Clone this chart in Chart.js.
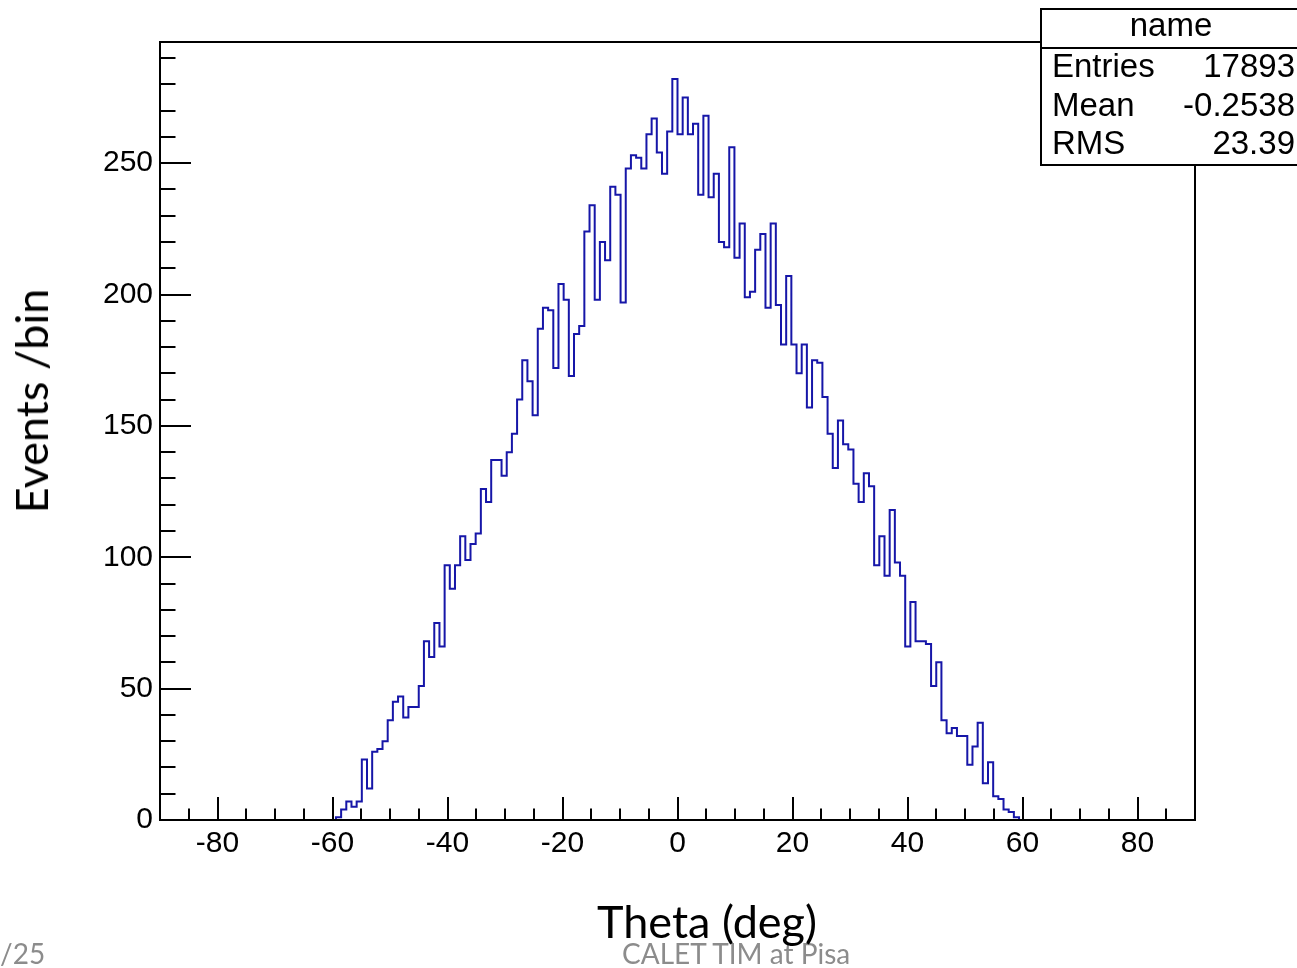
<!DOCTYPE html>
<html>
<head>
<meta charset="utf-8">
<script src="https://cdn.jsdelivr.net/npm/chart.js@4"></script>
<style>
  body { margin: 0; background: #fff; }
  #wrap { position: relative; width: 1297px; height: 968px; overflow: hidden; }
  #stats {
    position: absolute; left: 1040px; top: 8px; width: 270px; height: 154px;
    border: 2px solid #000; background: #fff;
    font-family: "Liberation Sans", Arial, sans-serif; font-size: 33px; line-height: 33px; color: #000;
  }
  #stats .sep { position: absolute; left: 0; right: 0; top: 37px; border-top: 2px solid #000; }
  #stats span { position: absolute; white-space: nowrap; }
  .axtitle { position: absolute; font-family: Lato, sans-serif; font-size: 45px; line-height: 54px; color: #000; white-space: nowrap; }
  .foot { position: absolute; font-family: Lato, sans-serif; font-size: 28px; color: #8c8c8c; white-space: nowrap; }
</style>
</head>
<body>
<div id="wrap">
  <canvas id="thetaChart" width="1297" height="968"></canvas>
  <div id="stats"></div>
  <div class="foot" style="left:0px; top:936px;">/25</div>
  <div class="foot" style="left:622px; top:936px;">CALET TIM at Pisa</div>
  <div class="axtitle" id="xTitle" style="left:707px; top:894px; transform:translateX(-50%);"></div>
  <div class="axtitle" id="yTitle" style="left:31px; top:401px; transform:translate(-50%,-50%) rotate(-90deg);"></div>
</div>
<script>
// histogram: 0.9 deg bins, first listed bin starts at -60.3
const binLowEdge = -60.3;
const binWidth = 0.9;
const counts = [
  0, 1, 4, 7, 5, 7, 23, 12, 26, 27, 30,
  38, 45, 47, 39, 43, 43, 51, 68, 62, 75,
  66, 97, 88, 97, 108, 99, 105, 109, 126, 121,
  137, 137, 131, 140, 147, 160, 175, 167, 154, 187,
  195, 194, 172, 204, 198, 169, 185, 188, 224, 234,
  198, 220, 213, 241, 238, 197, 248, 253, 252, 248,
  261, 267, 254, 246, 262, 282, 261, 275, 261, 265,
  238, 268, 237, 246, 220, 218, 256, 214, 227, 199,
  201, 217, 223, 195, 227, 196, 181, 207, 181, 170,
  181, 157, 175, 174, 161, 147, 134, 152, 143, 141,
  128, 121, 132, 127, 97, 108, 93, 118, 98, 93,
  66, 83, 68, 68, 67, 51, 60, 38, 33, 35,
  32, 32, 21, 28, 37, 14, 22, 9, 8, 4, 3, 1, 0
];
const xTickValues = [-80, -60, -40, -20, 0, 20, 40, 60, 80];
const yTickValues = [0, 50, 100, 150, 200, 250];
const xTitle = "Theta (deg)";
const yTitle = "Events /bin";
const statsTitle = "name";
const statsRows = [["Entries", "17893"], ["Mean", "-0.2538"], ["RMS", "23.39"]];

document.getElementById("xTitle").textContent = xTitle;
document.getElementById("yTitle").textContent = yTitle;

// stats box (ROOT style)
const box = document.getElementById("stats");
let html = '<span style="left:0;width:258px;text-align:center;top:-2px;">' + statsTitle + '</span><div class="sep"></div>';
statsRows.forEach(function (r, i) {
  const top = 39 + i * 38.5;
  html += '<span style="left:10px;top:' + top + 'px;">' + r[0] + '</span>';
  html += '<span style="right:17px;top:' + top + 'px;">' + r[1] + '</span>';
});
box.innerHTML = html;

const points = counts.map(function (c, i) {
  return { x: binLowEdge + i * binWidth, y: c };
});

// frame + inward ticks like ROOT
const rootFrame = {
  id: "rootFrame",
  afterDatasetsDraw(chart) {
    const ctx = chart.ctx;
    const a = chart.chartArea;
    const xs = chart.scales.x;
    const ys = chart.scales.y;
    ctx.save();
    ctx.strokeStyle = "#000";
    ctx.lineWidth = 2;
    ctx.beginPath();
    for (let v = -90; v <= 90; v += 5) {
      const px = Math.round(xs.getPixelForValue(v));
      const len = v % 20 === 0 ? 23 : 11.5;
      ctx.moveTo(px, a.bottom);
      ctx.lineTo(px, a.bottom - len);
    }
    for (let v = 0; v <= 290; v += 10) {
      const py = Math.round(ys.getPixelForValue(v));
      const len = v % 50 === 0 ? 31 : 15.5;
      ctx.moveTo(a.left, py);
      ctx.lineTo(a.left + len, py);
    }
    ctx.stroke();
    ctx.strokeRect(a.left, a.top, a.right - a.left, a.bottom - a.top);
    ctx.restore();
  }
};

const canvaTheta = document.getElementById("thetaChart").getContext("2d");
const thetaChart = new Chart(canvaTheta, {
  type: "line",
  data: {
    datasets: [
      {
        label: "Theta",
        data: points,
        stepped: true,
        borderColor: "#1616a8",
        borderWidth: 2,
        pointRadius: 0,
        fill: false,
      },
    ],
  },
  options: {
    responsive: false,
    animation: false,
    layout: { padding: { top: 42, right: 102, left: 0, bottom: 0 } },
    plugins: { legend: { display: false }, tooltip: { enabled: false } },
    scales: {
      x: {
        type: "linear",
        min: -90,
        max: 90,
        afterBuildTicks: function (s) {
          s.ticks = xTickValues.map(function (v) { return { value: v }; });
        },
        afterFit: function (s) { s.height = 148; },
        grid: { display: false, drawTicks: false },
        border: { display: false },
        ticks: {
          color: "#000",
          padding: 6,
          maxRotation: 0,
          autoSkip: false,
          font: { family: "Liberation Sans", size: 30 },
        },
      },
      y: {
        type: "linear",
        min: 0,
        max: 296.1,
        afterBuildTicks: function (s) {
          s.ticks = yTickValues.map(function (v) { return { value: v }; });
        },
        afterFit: function (s) { s.width = 160; },
        grid: { display: false, drawTicks: false },
        border: { display: false },
        ticks: {
          color: "#000",
          padding: 7,
          autoSkip: false,
          font: { family: "Liberation Sans", size: 30 },
        },
      },
    },
  },
  plugins: [rootFrame],
});
</script>
</body>
</html>
